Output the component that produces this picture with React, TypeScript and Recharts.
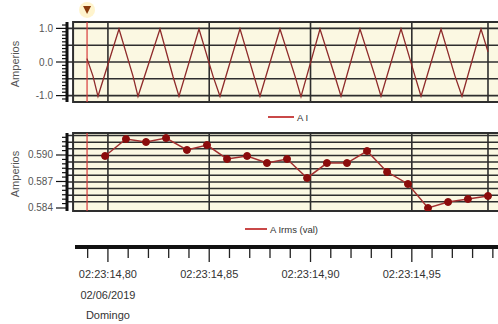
import React from 'react';
import { LineChart, Line, XAxis, YAxis, ReferenceLine, ReferenceArea, ReferenceDot, Legend } from 'recharts';

// ---- data ----
const WAVE_T = [14.78967, 14.79263, 14.7951, 14.80547, 14.81238, 14.81485, 14.8257, 14.83212, 14.83508, 14.84495, 14.85187, 14.85532, 14.86519, 14.8721, 14.87506, 14.88493, 14.89234, 14.8953, 14.90468, 14.91208, 14.91505, 14.92442, 14.93183, 14.93479, 14.94466, 14.95157, 14.95454, 14.96441, 14.97132, 14.97477, 14.98415, 14.98761];
const WAVE_A = [0.1, -0.42, -1.02, 0.98, -0.42, -1.02, 0.98, -0.43, -1.02, 0.98, -0.42, -1.02, 0.99, -0.42, -1.02, 0.98, -0.42, -1.03, 0.98, -0.43, -1.02, 0.98, -0.42, -1.02, 0.99, -0.42, -1.02, 0.98, -0.42, -1.02, 0.98, 0.3];

const RMS_T = [14.7986, 14.8089, 14.8188, 14.8287, 14.839, 14.8489, 14.8588, 14.8687, 14.8785, 14.8884, 14.8983, 14.9081, 14.918, 14.9279, 14.9378, 14.9481, 14.958, 14.9679, 14.9777, 14.9876];
const RMS_A = [0.58989, 0.59181, 0.59147, 0.59192, 0.59057, 0.59113, 0.58955, 0.58989, 0.58909, 0.58955, 0.5874, 0.58909, 0.58909, 0.59045, 0.58808, 0.58672, 0.584, 0.58468, 0.58502, 0.58536];

const TIME_TICKS = [14.79, 14.8, 14.81, 14.82, 14.83, 14.84, 14.85, 14.86, 14.87, 14.88, 14.89, 14.9, 14.91, 14.92, 14.93, 14.94, 14.95, 14.96, 14.97, 14.98, 14.99, 15.0];
const TIME_MAJOR = [14.8, 14.85, 14.9, 14.95];
const TIME_LABELS = ['02:23:14,80', '02:23:14,85', '02:23:14,90', '02:23:14,95'];
const DATE_LINES = ['02/06/2019', 'Domingo'];

const WAVE_TICKS = [-1.1, -1.0, -0.9, -0.8, -0.7, -0.6, -0.5, -0.4, -0.3, -0.2, -0.1, 0, 0.1, 0.2, 0.3, 0.4, 0.5, 0.6, 0.7, 0.8, 0.9, 1.0, 1.1];
const WAVE_MAJOR = [-1.0, 0, 1.0];
const WAVE_LABELS = ['-1.0', '0.0', '1.0'];
const WAVE_GRID = [-1.0, -0.5, 0, 0.5, 1.0];

const RMS_TICKS = [0.584, 0.5845, 0.585, 0.5855, 0.586, 0.5865, 0.587, 0.5875, 0.588, 0.5885, 0.589, 0.5895, 0.59, 0.5905, 0.591, 0.5915, 0.592];
const RMS_MAJOR = [0.584, 0.587, 0.59];
const RMS_LABELS = ['0.584', '0.587', '0.590'];
const RMS_GRID = [0.5847, 0.58545, 0.5862, 0.58695, 0.5877, 0.58845, 0.5892, 0.58995, 0.5907, 0.59145, 0.5922];

const VGRID = [14.8, 14.85, 14.9, 14.95];
const CURSOR_T = 14.7897;
const END_T = 14.9876;
const FRAME_T = 14.7828;
const X_MIN = 14.7798;
const X_MAX = 15.0034;
const AXIS_MIN = 14.78375;
const WAVE_DOMAIN: [number, number] = [-1.19, 1.19];
const RMS_DOMAIN: [number, number] = [0.58366, 0.59249];
const MARKER_Y = 1.55;

const waveData = WAVE_T.map((t, i) => ({ t, a: WAVE_A[i] }));
const rmsData = RMS_T.map((t, i) => ({ t, a: RMS_A[i] }));

const FONT = '"Liberation Sans", Arial, Helvetica, sans-serif';
const GRID = '#2e2e2e';
const CREAM = '#fbf8e2';

const makeYTick = (major: number[], labels: string[], tol: number) => (props: any) => {
  const { x, y, payload } = props;
  const idx = major.findIndex((m) => Math.abs(m - payload.value) < tol);
  const isMajor = idx >= 0;
  return (
    <g>
      <line x1={x - (isMajor ? 11 : 5)} x2={x} y1={y} y2={y} stroke="#111" strokeWidth={1.2} />
      {isMajor && (
        <text x={x - 14} y={y} dy={3.5} textAnchor="end" fontSize={10} fill="#555" fontFamily={FONT}>
          {labels[idx]}
        </text>
      )}
    </g>
  );
};

const ampLabel = (props: any) => {
  const vb = props.viewBox || { x: 0, y: 0, width: 0, height: 0 };
  const cx = (vb.x || 0) + 15;
  const cy = (vb.y || 0) + (vb.height || 0) / 2 + 2;
  return (
    <text x={cx} y={cy} transform={`rotate(-90 ${cx} ${cy})`} textAnchor="middle" dy={4} fontSize={11} fill="#555" fontFamily={FONT}>
      Amperios
    </text>
  );
};

const TimeTick = (props: any) => {
  const { x, y, payload } = props;
  const idx = TIME_MAJOR.findIndex((m) => Math.abs(m - payload.value) < 1e-6);
  const isMajor = idx >= 0;
  return (
    <g>
      <line x1={x} x2={x} y1={y + 2} y2={y + (isMajor ? 15 : 11)} stroke="#222" strokeWidth={1.3} />
      {isMajor && (
        <text x={x} y={y + 31} textAnchor="middle" fontSize={11} fill="#333" fontFamily={FONT}>
          {TIME_LABELS[idx]}
        </text>
      )}
      {idx === 0 && (
        <text x={x} y={y + 52} textAnchor="middle" fontSize={11} fill="#333" fontFamily={FONT}>
          {DATE_LINES[0]}
        </text>
      )}
      {idx === 0 && (
        <text x={x} y={y + 72} textAnchor="middle" fontSize={11} fill="#333" fontFamily={FONT}>
          {DATE_LINES[1]}
        </text>
      )}
    </g>
  );
};

const legendContent = (label: string, padLeft: number, padTop: number, lineW: number) => () => (
  <div
    style={{
      height: 14 + padTop,
      paddingTop: padTop,
      paddingLeft: padLeft,
      boxSizing: 'border-box',
      display: 'flex',
      alignItems: 'center',
      fontFamily: FONT,
      fontSize: 9.5,
      color: '#333',
    }}
  >
    <span style={{ display: 'inline-block', width: lineW, height: 2, background: '#c94848', marginRight: 3 }} />
    <span>{label}</span>
  </div>
);

const Marker = (props: any) => {
  const { cx, cy } = props;
  if (cx == null || cy == null) return null;
  return (
    <g>
      <circle cx={cx} cy={cy} r={8} fill="#fff1c0" opacity={0.8} />
      <path d={`M${cx - 4},${cy - 4} L${cx + 4},${cy - 4} L${cx},${cy + 4} Z`} fill="#8a3b0c" />
    </g>
  );
};

const W = 520;

export default function App() {
  return (
    <div style={{ position: 'absolute', left: 0, top: 0, width: 498, height: 324, overflow: 'hidden', background: '#fff' }}>
      <div style={{ position: 'absolute', left: 0, top: 0 }}>
        <LineChart width={W} height={124} data={waveData} margin={{ top: 22, right: 0, bottom: 0, left: 0 }}>
          <XAxis dataKey="t" type="number" domain={[X_MIN, X_MAX]} allowDataOverflow hide />
          <YAxis
            type="number"
            domain={WAVE_DOMAIN}
            allowDataOverflow
            width={67}
            ticks={WAVE_TICKS}
            interval={0}
            tickSize={0}
            tickMargin={0}
            tickLine={false}
            axisLine={{ stroke: '#111', strokeWidth: 3 }}
            tick={makeYTick(WAVE_MAJOR, WAVE_LABELS, 1e-6)}
            label={ampLabel}
          />
          <ReferenceArea x1={FRAME_T} x2={X_MAX} y1={WAVE_DOMAIN[0]} y2={WAVE_DOMAIN[1]} fill={CREAM} fillOpacity={1} stroke={GRID} strokeWidth={2} />
          {WAVE_GRID.map((v) => (
            <ReferenceLine key={'h' + v} y={v} stroke={GRID} strokeWidth={1.6} segment={[{ x: FRAME_T, y: v }, { x: X_MAX, y: v }]} />
          ))}
          {VGRID.map((v) => (
            <ReferenceLine key={'v' + v} x={v} stroke={GRID} strokeWidth={1.6} />
          ))}
          <ReferenceLine x={END_T} stroke={GRID} strokeWidth={1.6} />
          <ReferenceLine x={CURSOR_T} stroke="#d83a3a" strokeWidth={1.2} />
          <ReferenceDot x={CURSOR_T} y={MARKER_Y} ifOverflow="visible" shape={Marker} />
          <Line dataKey="a" stroke="#8e2a2a" strokeWidth={1.3} dot={false} isAnimationActive={false} />
          <Legend verticalAlign="bottom" content={legendContent('A I', 268, 8, 26)} />
        </LineChart>
      </div>
      <div style={{ position: 'absolute', left: 0, top: 124 }}>
        <LineChart width={W} height={112} data={rmsData} margin={{ top: 9, right: 0, bottom: 0, left: 0 }}>
          <XAxis dataKey="t" type="number" domain={[X_MIN, X_MAX]} allowDataOverflow hide />
          <YAxis
            type="number"
            domain={RMS_DOMAIN}
            allowDataOverflow
            width={67}
            ticks={RMS_TICKS}
            interval={0}
            tickSize={0}
            tickMargin={0}
            tickLine={false}
            axisLine={{ stroke: '#111', strokeWidth: 3 }}
            tick={makeYTick(RMS_MAJOR, RMS_LABELS, 1e-7)}
            label={ampLabel}
          />
          <ReferenceArea x1={FRAME_T} x2={X_MAX} y1={RMS_DOMAIN[0]} y2={RMS_DOMAIN[1]} fill={CREAM} fillOpacity={1} stroke={GRID} strokeWidth={2} />
          {RMS_GRID.map((v) => (
            <ReferenceLine key={'h' + v} y={v} stroke={GRID} strokeWidth={1.5} segment={[{ x: FRAME_T, y: v }, { x: X_MAX, y: v }]} />
          ))}
          {VGRID.map((v) => (
            <ReferenceLine key={'v' + v} x={v} stroke={GRID} strokeWidth={1.6} />
          ))}
          <ReferenceLine x={END_T} stroke={GRID} strokeWidth={1.6} />
          <ReferenceLine x={CURSOR_T} stroke="#d83a3a" strokeWidth={1.2} />
          <Line
            dataKey="a"
            stroke="#a33030"
            strokeWidth={1.5}
            dot={{ r: 3.5, fill: '#8b0c0c', stroke: '#8b0c0c', strokeWidth: 1 }}
            isAnimationActive={false}
          />
          <Legend verticalAlign="bottom" content={legendContent('A Irms (val)', 245, 11, 22)} />
        </LineChart>
      </div>
      <div style={{ position: 'absolute', left: 0, top: 236 }}>
        <LineChart width={W} height={88} data={rmsData} margin={{ top: 5, right: 0, bottom: 0, left: 75 }}>
          <YAxis hide domain={RMS_DOMAIN} />
          <XAxis
            dataKey="t"
            type="number"
            domain={[AXIS_MIN, X_MAX]}
            allowDataOverflow
            height={77}
            ticks={TIME_TICKS}
            interval={0}
            tickSize={0}
            tickMargin={0}
            tickLine={false}
            axisLine={{ stroke: '#111', strokeWidth: 4 }}
            tick={TimeTick}
          />
        </LineChart>
      </div>
    </div>
  );
}
